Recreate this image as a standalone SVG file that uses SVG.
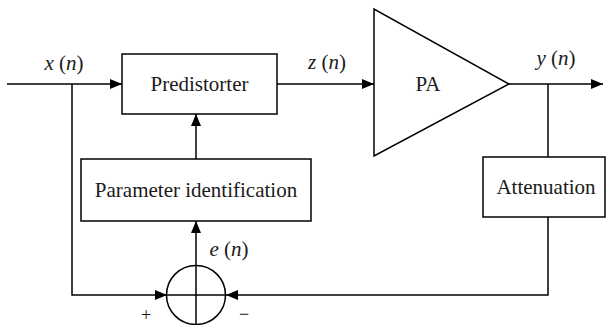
<svg xmlns="http://www.w3.org/2000/svg" width="607" height="325" viewBox="0 0 607 325">
<defs>
<style>
.ln{fill:none;stroke:#000;stroke-width:1.5}
.bx{fill:#fff;stroke:#000;stroke-width:1.5}
.t{font-family:'Liberation Serif','DejaVu Serif',serif;font-size:21px;fill:#1a1a1a}
.i{font-style:italic}
</style>
<marker id="ar" markerUnits="userSpaceOnUse" markerWidth="12" markerHeight="12" viewBox="0 0 12 12" refX="12" refY="6" orient="auto">
<path d="M0,1 L12,6 L0,11 Z" fill="#000"/>
</marker>
</defs>
<g id="connectors">
<line class="ln" x1="7" y1="84" x2="122" y2="84" marker-end="url(#ar)"/>
<line class="ln" x1="277" y1="84" x2="374" y2="84" marker-end="url(#ar)"/>
<line class="ln" x1="509" y1="84" x2="603" y2="84" marker-end="url(#ar)"/>
<line class="ln" x1="548" y1="84" x2="548" y2="157"/>
<polyline class="ln" points="548,217 548,295 226,295" marker-end="url(#ar)"/>
<polyline class="ln" points="72,84 72,295 167,295" marker-end="url(#ar)"/>
<line class="ln" x1="196" y1="159" x2="196" y2="114" marker-end="url(#ar)"/>
<line class="ln" x1="196" y1="266" x2="196" y2="221" marker-end="url(#ar)"/>
</g>
<g id="predistorter">
<rect class="bx" x="122" y="54" width="155" height="60"/>
<text class="t" x="199.5" y="91" text-anchor="middle" font-family="Liberation Serif, serif">Predistorter</text>
</g>
<g id="pa">
<polygon class="bx" points="374,9 374,156 509,84"/>
<text class="t" x="428" y="91" text-anchor="middle">PA</text>
</g>
<g id="param">
<rect class="bx" x="81" y="159" width="230" height="62"/>
<text class="t" x="196" y="197" text-anchor="middle">Parameter identification</text>
</g>
<g id="attenuation">
<rect class="bx" x="483" y="157" width="122" height="60"/>
<text class="t" x="546" y="194" text-anchor="middle">Attenuation</text>
</g>
<g id="sum">
<circle class="ln" cx="196" cy="295" r="29.5"/>
<line class="ln" x1="196" y1="265.5" x2="196" y2="324.5"/>
<line class="ln" x1="166.5" y1="295" x2="225.5" y2="295"/>
<text class="t" x="146" y="321" text-anchor="middle" style="font-size:18px">+</text>
<text class="t" x="244" y="320" text-anchor="middle" style="font-size:18px">−</text>
</g>
<g id="labels">
<text class="t" x="64" y="70" text-anchor="middle"><tspan class="i">x</tspan> (<tspan class="i">n</tspan>)</text>
<text class="t" x="327" y="69" text-anchor="middle"><tspan class="i">z</tspan> (<tspan class="i">n</tspan>)</text>
<text class="t" x="556" y="65" text-anchor="middle"><tspan class="i">y</tspan> (<tspan class="i">n</tspan>)</text>
<text class="t" x="229" y="256" text-anchor="middle"><tspan class="i">e</tspan> (<tspan class="i">n</tspan>)</text>
</g>
</svg>
